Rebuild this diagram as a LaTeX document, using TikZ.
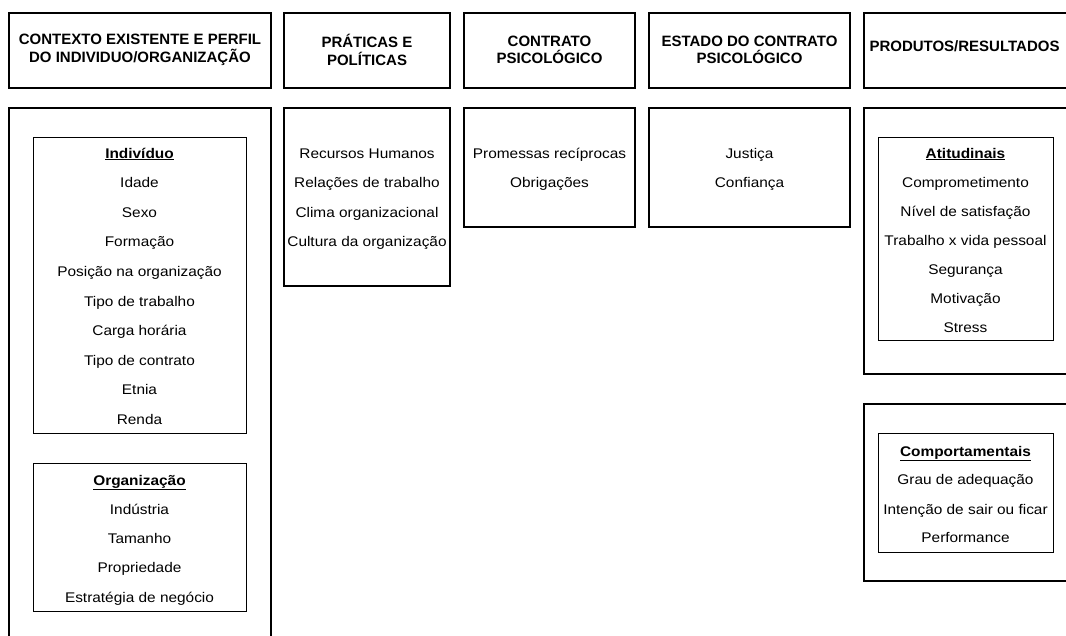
\documentclass[tikz,border=0pt]{standalone}
\usepackage{fontspec}
\setmainfont{Liberation Sans}
\newfontfamily\bodyfont[FakeStretch=1.1]{Liberation Sans}
\tikzset{
	outerbox/.style={line width=1.6pt},
	innerbox/.style={line width=0.8pt},
	head/.style={align=center,inner sep=0pt,font=\bfseries\fontsize{15}{17.5}\selectfont},
	item/.style={anchor=base,inner sep=0pt,font=\bodyfont\fontsize{14}{16}\selectfont},
	itemtitle/.style={item,font=\bodyfont\bfseries\fontsize{14}{16}\selectfont}
}
\begin{document}
\begin{tikzpicture}[x=1pt,y=-1pt]
		\path[use as bounding box,clip] (0,0) rectangle (1066,635);
		% cabecalhos
		\draw[outerbox] (9,13) rectangle (271,88);
		\draw[outerbox] (284,13) rectangle (450,88);
		\draw[outerbox] (464,13) rectangle (635,88);
		\draw[outerbox] (649,13) rectangle (850,88);
		\draw[outerbox] (864,13) rectangle (1080,88);
		\node[head] (h1) at (140,50) {CONTEXTO EXISTENTE E PERFIL\\DO INDIVIDUO/ORGANIZAÇÃO};
		\node[head] (h2) at (367,50) {PRÁTICAS E\\POLÍTICAS};
		\node[head] (h3) at (549.5,50) {CONTRATO\\PSICOLÓGICO};
		\node[head] (h4) at (749.5,50) {ESTADO DO CONTRATO\\PSICOLÓGICO};
		\node[head] (h5) at (964.5,46.5) {PRODUTOS/RESULTADOS};
		% caixas
		\draw[outerbox] (9,108) rectangle (271,650);
		\draw[outerbox] (284,108) rectangle (450,286);
		\draw[outerbox] (464,108) rectangle (635,227);
		\draw[outerbox] (649,108) rectangle (850,227);
		\draw[outerbox] (864,108) rectangle (1080,374);
		\draw[outerbox] (864,404) rectangle (1080,581);
		\draw[innerbox] (33,137) rectangle (246,433);
		\draw[innerbox] (33,463) rectangle (246,611);
		\draw[innerbox] (878,137) rectangle (1053,340);
		\draw[innerbox] (878,433) rectangle (1053,552);
		% individuo
		\node[itemtitle] (ind) at (139.5,158) {\underline{Indivíduo}};
		\node[item] (ind1) at (139.5,187.6) {Idade};
		\node[item] (ind2) at (139.5,217.2) {Sexo};
		\node[item] (ind3) at (139.5,246.8) {Formação};
		\node[item] (ind4) at (139.5,276.4) {Posição na organização};
		\node[item] (ind5) at (139.5,306) {Tipo de trabalho};
		\node[item] (ind6) at (139.5,335.6) {Carga horária};
		\node[item] (ind7) at (139.5,365.2) {Tipo de contrato};
		\node[item] (ind8) at (139.5,394.8) {Etnia};
		\node[item] (ind9) at (139.5,424.4) {Renda};
		% organizacao
		\node[itemtitle] (org) at (139.5,485) {\underline{Organização}};
		\node[item] (org1) at (139.5,514) {Indústria};
		\node[item] (org2) at (139.5,543) {Tamanho};
		\node[item] (org3) at (139.5,572) {Propriedade};
		\node[item] (org4) at (139.5,602) {Estratégia de negócio};
		% praticas
		\node[item] (pra1) at (367,158) {Recursos Humanos};
		\node[item] (pra2) at (367,187.6) {Relações de trabalho};
		\node[item] (pra3) at (367,217.2) {Clima organizacional};
		\node[item] (pra4) at (367,246.8) {Cultura da organização};
		% contrato
		\node[item] (con1) at (549.5,158) {Promessas recíprocas};
		\node[item] (con2) at (549.5,187.6) {Obrigações};
		% estado
		\node[item] (est1) at (749.5,158) {Justiça};
		\node[item] (est2) at (749.5,187.6) {Confiança};
		% atitudinais
		\node[itemtitle] (ati) at (965.5,158) {\underline{Atitudinais}};
		\node[item] (ati1) at (965.5,187.1) {Comprometimento};
		\node[item] (ati2) at (965.5,216.2) {Nível de satisfação};
		\node[item] (ati3) at (965.5,245.3) {Trabalho x vida pessoal};
		\node[item] (ati4) at (965.5,274.4) {Segurança};
		\node[item] (ati5) at (965.5,303.5) {Motivação};
		\node[item] (ati6) at (965.5,332.6) {Stress};
		% comportamentais
		\node[itemtitle] (com) at (965.5,456) {\underline{Comportamentais}};
		\node[item] (com1) at (965.5,484.5) {Grau de adequação};
		\node[item] (com2) at (965.5,514) {Intenção de sair ou ficar};
		\node[item] (com3) at (965.5,542.5) {Performance};
	\end{tikzpicture}
\end{document}
